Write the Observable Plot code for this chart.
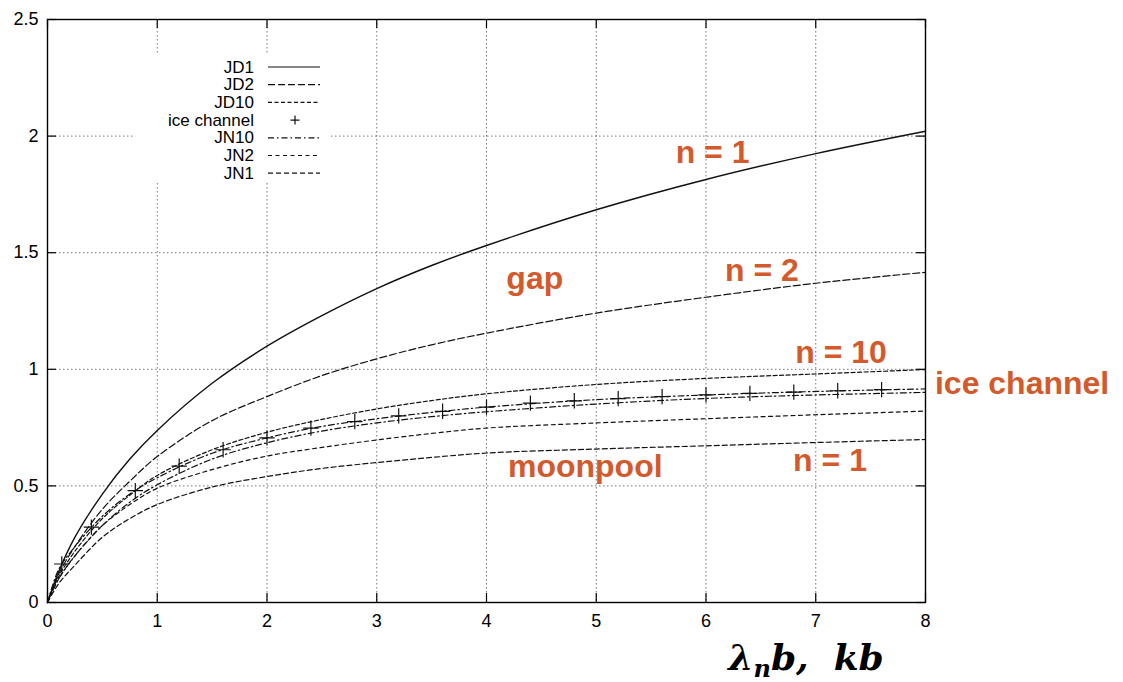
<!DOCTYPE html>
<html>
<head>
<meta charset="utf-8">
<script src="https://cdn.jsdelivr.net/npm/d3@7"></script>
<script src="https://cdn.jsdelivr.net/npm/@observablehq/plot@0.6"></script>
<style>
  body { margin: 0; background: #fff; }
  #chart svg { display: block; }
</style>
</head>
<body>
<div id="chart"></div>
<script>
// Sample abscissae (λn·b, k·b) shared by the continuous curves
const xs = [0, 0.1, 0.25, 0.5, 0.75, 1, 1.5, 2, 2.5, 3, 3.5, 4, 5, 6, 7, 8];

// Gap (Dirichlet) branches
const jd1  = [0, 0.13, 0.28, 0.465, 0.615, 0.738, 0.94, 1.099, 1.23, 1.346, 1.445, 1.531, 1.684, 1.814, 1.925, 2.021];
const jd2  = [0, 0.12, 0.24, 0.40, 0.52, 0.626, 0.78, 0.883, 0.973, 1.045, 1.105, 1.155, 1.241, 1.309, 1.369, 1.416];
const jd10 = [0, 0.11, 0.22, 0.36, 0.46, 0.545, 0.655, 0.73, 0.785, 0.83, 0.866, 0.895, 0.935, 0.961, 0.98, 0.999];

// Moonpool (Neumann) branches
const jn10    = [0, 0.14, 0.24, 0.37, 0.465, 0.535, 0.64, 0.706, 0.755, 0.788, 0.815, 0.838, 0.87, 0.89, 0.905, 0.916];
const jnLower = [0, 0.10, 0.20, 0.33, 0.43, 0.505, 0.615, 0.685, 0.735, 0.77, 0.797, 0.818, 0.851, 0.875, 0.89, 0.901];
const jn2     = [0, 0.10, 0.20, 0.33, 0.42, 0.49, 0.57, 0.628, 0.665, 0.697, 0.725, 0.748, 0.77, 0.788, 0.805, 0.821];
const jn1     = [0, 0.08, 0.16, 0.28, 0.36, 0.42, 0.495, 0.54, 0.575, 0.60, 0.622, 0.641, 0.658, 0.672, 0.686, 0.699];

// Ice channel solution (discrete points)
const iceX = [0.13, 0.4, 0.8, 1.2, 1.6, 2.0, 2.4, 2.8, 3.2, 3.6, 4.0, 4.4, 4.8, 5.2, 5.6, 6.0, 6.4, 6.8, 7.2, 7.6];
const iceY = [0.165, 0.323, 0.48, 0.585, 0.655, 0.706, 0.748, 0.776, 0.80, 0.82, 0.838, 0.855, 0.865, 0.874, 0.883, 0.89, 0.897, 0.902, 0.908, 0.913];

// Axis ticks
const xTicks = [0, 1, 2, 3, 4, 5, 6, 7, 8];
const yTicks = [0, 0.5, 1, 1.5, 2, 2.5];
const xGridLines = [1, 2, 3, 4, 5, 6, 7];
const yGridLines = [0.5, 1, 1.5, 2];

// Annotations
const noteText = ["n = 1", "gap", "n = 2", "n = 10", "ice channel", "moonpool", "n = 1"];
const noteX    = [6.06, 4.44, 6.51, 7.23, 8.88, 4.90, 7.13];
const noteY    = [1.93, 1.39, 1.424, 1.072, 0.939, 0.58, 0.609];

// Legend order
const legendNames = ["JD1", "JD2", "JD10", "ice channel", "JN10", "JN2", "JN1"];

// Line styles per curve
const dashStyle = {
  JD1: null,
  JD2: "7,3",
  JD10: "4,2.5",
  JN10: "6,3,1.5,3",
  jnLower: "6,3,1.5,3",
  JN2: "4,3.5",
  JN1: "5,3"
};

const curves = [
  {name: "JD1", ys: jd1},
  {name: "JD2", ys: jd2},
  {name: "JD10", ys: jd10},
  {name: "JN10", ys: jn10},
  {name: "jnLower", ys: jnLower},
  {name: "JN2", ys: jn2},
  {name: "JN1", ys: jn1}
];

const ice = iceX.map((x, i) => ({x, y: iceY[i]}));
const notes = noteText.map((t, i) => ({text: t, x: noteX[i], y: noteY[i]}));

const W = 1123, H = 682;
const mL = 47, mR = 198, mT = 19, mB = 80;
const plotW = W - mL - mR, plotH = H - mT - mB;
const tickLen = 9;

const lineMarks = curves.map(c =>
  Plot.line(xs.map((x, i) => ({x, y: c.ys[i]})), {
    x: "x", y: "y",
    stroke: "#111",
    strokeWidth: c.name === "JD1" ? 1.4 : 1.2,
    strokeDasharray: dashStyle[c.name],
    curve: "catmull-rom"
  })
);

const chart = Plot.plot({
  width: W,
  height: H,
  marginLeft: mL,
  marginRight: mR,
  marginTop: mT,
  marginBottom: mB,
  style: {fontFamily: "'Liberation Sans', Arial, sans-serif", background: "white", color: "black"},
  x: {domain: [0, 8]},
  y: {domain: [0, 2.5]},
  marks: [
    Plot.gridX(xGridLines, {stroke: "#555", strokeOpacity: 0.9, strokeDasharray: "1.5,2.5", strokeWidth: 0.9}),
    Plot.gridY(yGridLines, {stroke: "#555", strokeOpacity: 0.9, strokeDasharray: "1.5,2.5", strokeWidth: 0.9}),
    Plot.axisX(xTicks, {tickSize: 0, tickPadding: 12, label: null, fontSize: 18, tickFormat: d => String(d)}),
    Plot.axisY(yTicks, {tickSize: 0, tickPadding: 9, label: null, fontSize: 18, tickFormat: d => String(d)}),
    // inward ticks on all four sides
    Plot.ruleX(xTicks, {x: d => d, insetTop: plotH - tickLen, stroke: "black", strokeWidth: 1.2}),
    Plot.ruleX(xTicks, {x: d => d, insetBottom: plotH - tickLen, stroke: "black", strokeWidth: 1.2}),
    Plot.ruleY(yTicks, {y: d => d, insetRight: plotW - tickLen, stroke: "black", strokeWidth: 1.2}),
    Plot.ruleY(yTicks, {y: d => d, insetLeft: plotW - tickLen, stroke: "black", strokeWidth: 1.2}),
    ...lineMarks,
    Plot.dot(ice, {x: "x", y: "y", symbol: "plus", r: 5, stroke: "#111", strokeWidth: 1.2, fill: "none"}),
    Plot.text(notes, {
      x: "x", y: "y", text: "text",
      fill: "#d35a2c", fontSize: 32, fontWeight: "bold",
      fontFamily: "'Liberation Sans', Arial, sans-serif",
      textAnchor: "middle", lineAnchor: "middle", clip: false
    }),
    Plot.frame({stroke: "black", strokeWidth: 1.4})
  ]
});

document.getElementById("chart").appendChild(chart);

// Key box in the upper-left of the frame
const svg = d3.select(chart);
const key = svg.append("g")
  .attr("font-family", "'Liberation Sans', Arial, sans-serif")
  .attr("font-size", 17)
  .attr("fill", "black");
key.append("rect")
  .attr("x", 134).attr("y", 54).attr("width", 196).attr("height", 128)
  .attr("fill", "white");
const rowY0 = 67, rowStep = 17.7;
legendNames.forEach((name, i) => {
  const y = rowY0 + i * rowStep;
  key.append("text")
    .attr("x", 254).attr("y", y)
    .attr("text-anchor", "end")
    .attr("dominant-baseline", "central")
    .text(name);
  if (name === "ice channel") {
    key.append("path")
      .attr("d", `M${295 - 4.5},${y}H${295 + 4.5}M295,${y - 4.5}V${y + 4.5}`)
      .attr("stroke", "#111").attr("stroke-width", 1.2);
  } else {
    key.append("line")
      .attr("x1", 268).attr("x2", 320).attr("y1", y).attr("y2", y)
      .attr("stroke", "#111").attr("stroke-width", 1.2)
      .attr("stroke-dasharray", dashStyle[name]);
  }
});

// Horizontal-axis title
const title = svg.append("text")
  .attr("x", 806).attr("y", 670)
  .attr("text-anchor", "middle")
  .attr("font-family", "'DejaVu Serif', 'Liberation Serif', serif")
  .attr("font-style", "italic")
  .attr("font-weight", "bold")
  .attr("font-size", 36)
  .attr("fill", "black")
  .style("white-space", "pre");
title.append("tspan").text("λ");
title.append("tspan").attr("font-size", 24).attr("dy", 7).text("n");
title.append("tspan").attr("dy", -7).text("b,  kb");
</script>
</body>
</html>
